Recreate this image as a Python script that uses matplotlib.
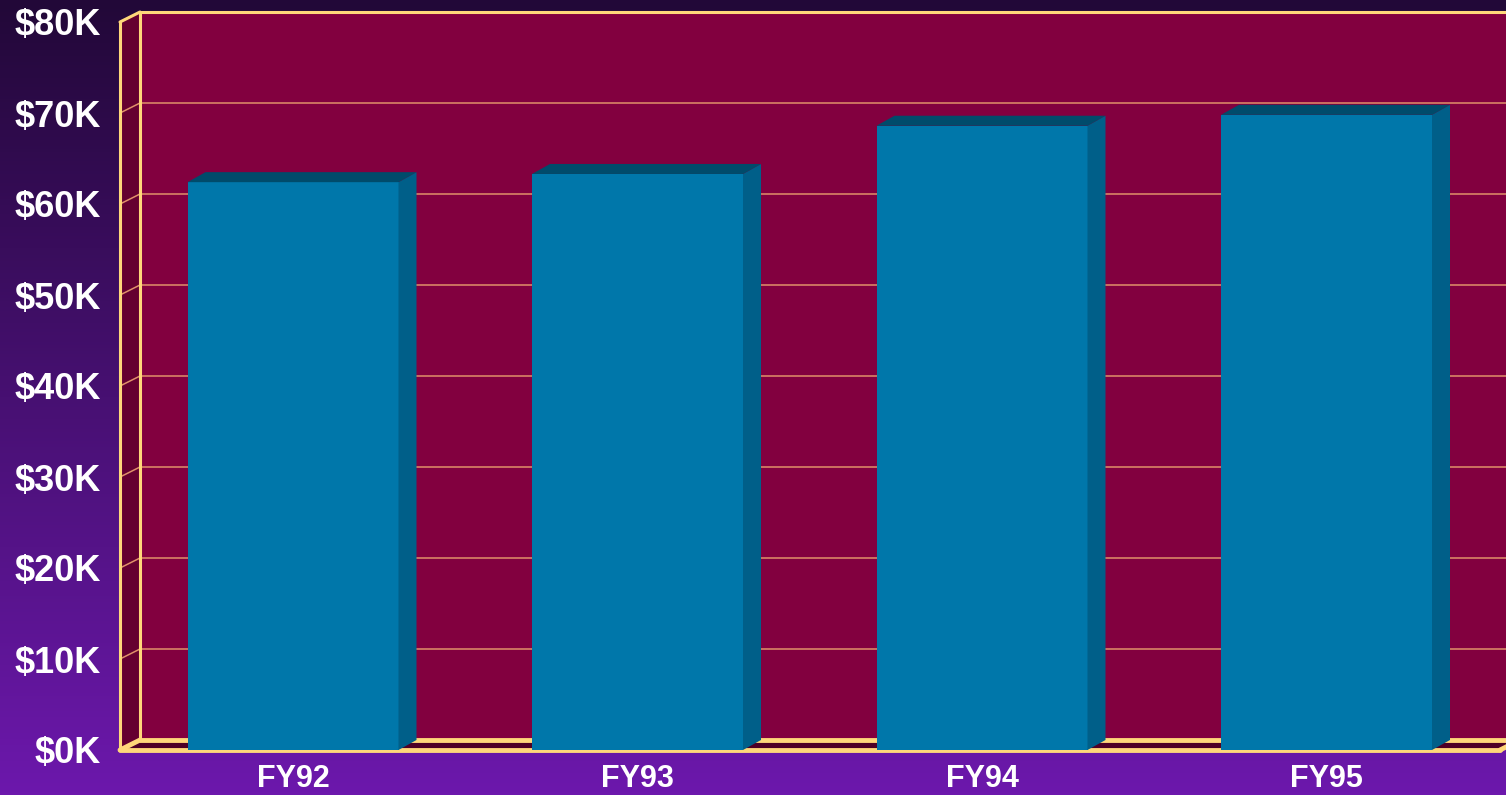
import matplotlib
matplotlib.use('Agg')
import matplotlib.pyplot as plt
import matplotlib.patches as mpatches
from matplotlib.colors import LinearSegmentedColormap
import numpy as np

# data (thousands of dollars)
years = ['FY92', 'FY93', 'FY94', 'FY95']
salary_k = [62.4, 63.3, 68.6, 69.8]
y_ticks = [0, 10, 20, 30, 40, 50, 60, 70, 80]
y_tick_labels = ['$%dK' % v for v in y_ticks]

# colours
bg_top, bg_bottom = '#220838', '#6c18ac'
wall_back = '#82003f'
wall_left = '#650030'
floor_col = '#4e0026'
edge_yellow = '#ffd77a'
grid_col = '#e0906a'
bar_front = '#0077aa'
bar_side = '#005f89'
bar_top = '#004b6b'

W, H = 1506, 795
fig = plt.figure(figsize=(W / 100, H / 100), dpi=100)

# gradient background
bg = fig.add_axes([0, 0, 1, 1], zorder=-5)
cmap = LinearSegmentedColormap.from_list('bg', [bg_top, bg_bottom])
bg.imshow(np.linspace(0, 1, 256).reshape(-1, 1), aspect='auto', cmap=cmap,
          extent=[0, 1, 0, 1])
bg.axis('off')

# front plane of the chart, in pixels: x 120..1506, y 22..750 (from top)
ax = fig.add_axes([120 / W, 45 / H, (W - 120) / W, 728 / H])
ax.patch.set_visible(False)
x_unit = 344.5              # pixels per category
y_unit = 728 / 80.0         # pixels per $1K
xl = (120 - 293) / x_unit
xr = (W - 293) / x_unit
ax.set_xlim(xl, xr)
ax.set_ylim(0, 80)
for s in ax.spines.values():
    s.set_visible(False)

# depth offsets in data units
dxw, dyw = 20 / x_unit, 10 / y_unit   # walls
dxb, dyb = 18 / x_unit, 10 / y_unit   # bars
ymax = y_ticks[-1]
x_floor_end = (1500 - 293) / x_unit

# back wall
ax.add_patch(mpatches.Rectangle((xl + dxw, dyw), xr + 1 - xl, ymax,
                                facecolor=wall_back, edgecolor='none',
                                clip_on=False, zorder=1))
# left wall
ax.add_patch(mpatches.Polygon([(xl, 0), (xl + dxw, dyw), (xl + dxw, ymax + dyw), (xl, ymax)],
                              closed=True, facecolor=wall_left, edgecolor='none',
                              clip_on=False, zorder=1))
# floor
ax.add_patch(mpatches.Polygon([(xl, 0), (x_floor_end, 0), (x_floor_end + dxw, dyw), (xl + dxw, dyw)],
                              closed=True, facecolor=floor_col, edgecolor='none',
                              clip_on=False, zorder=1))

# gridlines on back and left walls
for v in y_ticks[1:-1]:
    ax.plot([xl + dxw, xr + 1], [v + dyw, v + dyw], color=grid_col, lw=1.1,
            clip_on=False, zorder=2)
    ax.plot([xl, xl + dxw], [v, v + dyw], color=grid_col, lw=1.1,
            clip_on=False, zorder=2)

# yellow edges
edge_kw = dict(color=edge_yellow, clip_on=False, solid_capstyle='round')
ax.plot([xl + dxw, xr + 1], [ymax + dyw, ymax + dyw], lw=2.2, zorder=3, **edge_kw)
ax.plot([xl + dxw, xl + dxw], [dyw, ymax + dyw], lw=2.2, zorder=3, **edge_kw)
ax.plot([xl, xl], [0, ymax], lw=2.2, zorder=3, **edge_kw)
ax.plot([xl, xl + dxw], [ymax, ymax + dyw], lw=2.2, zorder=3, **edge_kw)
ax.plot([xl + dxw, xr + 1], [dyw, dyw], lw=3.5, zorder=3, **edge_kw)
ax.plot([xl, x_floor_end], [0, 0], lw=3.5, zorder=3, **edge_kw)
ax.plot([xl, xl + dxw], [0, dyw], lw=3.5, zorder=3, **edge_kw)
ax.plot([x_floor_end, x_floor_end + dxw], [0, dyw], lw=3.5, zorder=3, **edge_kw)

# 3D bars
xs = np.arange(len(years))
bw = 211 / x_unit
ax.bar(xs, salary_k, width=bw, color=bar_front, edgecolor='none', zorder=5)
for x, v in zip(xs, salary_k):
    r = x + bw / 2
    l = x - bw / 2
    ax.add_patch(mpatches.Polygon([(r, 0), (r + dxb, dyb), (r + dxb, v + dyb), (r, v)],
                                  closed=True, facecolor=bar_side, edgecolor='none',
                                  zorder=5, clip_on=False))
    ax.add_patch(mpatches.Polygon([(l, v), (r, v), (r + dxb, v + dyb), (l + dxb, v + dyb)],
                                  closed=True, facecolor=bar_top, edgecolor='none',
                                  zorder=5, clip_on=False))

# ticks
ax.set_yticks(y_ticks)
ax.set_yticklabels(y_tick_labels)
ax.set_xticks(xs)
ax.set_xticklabels(years)
ax.tick_params(axis='y', length=0, pad=14, labelsize=26, labelcolor='white')
ax.tick_params(axis='x', length=0, pad=10, labelsize=22, labelcolor='white')
for lab in ax.get_yticklabels() + ax.get_xticklabels():
    lab.set_fontfamily('Liberation Sans')
    lab.set_fontweight('bold')

fig.savefig('out.png', dpi=100)
